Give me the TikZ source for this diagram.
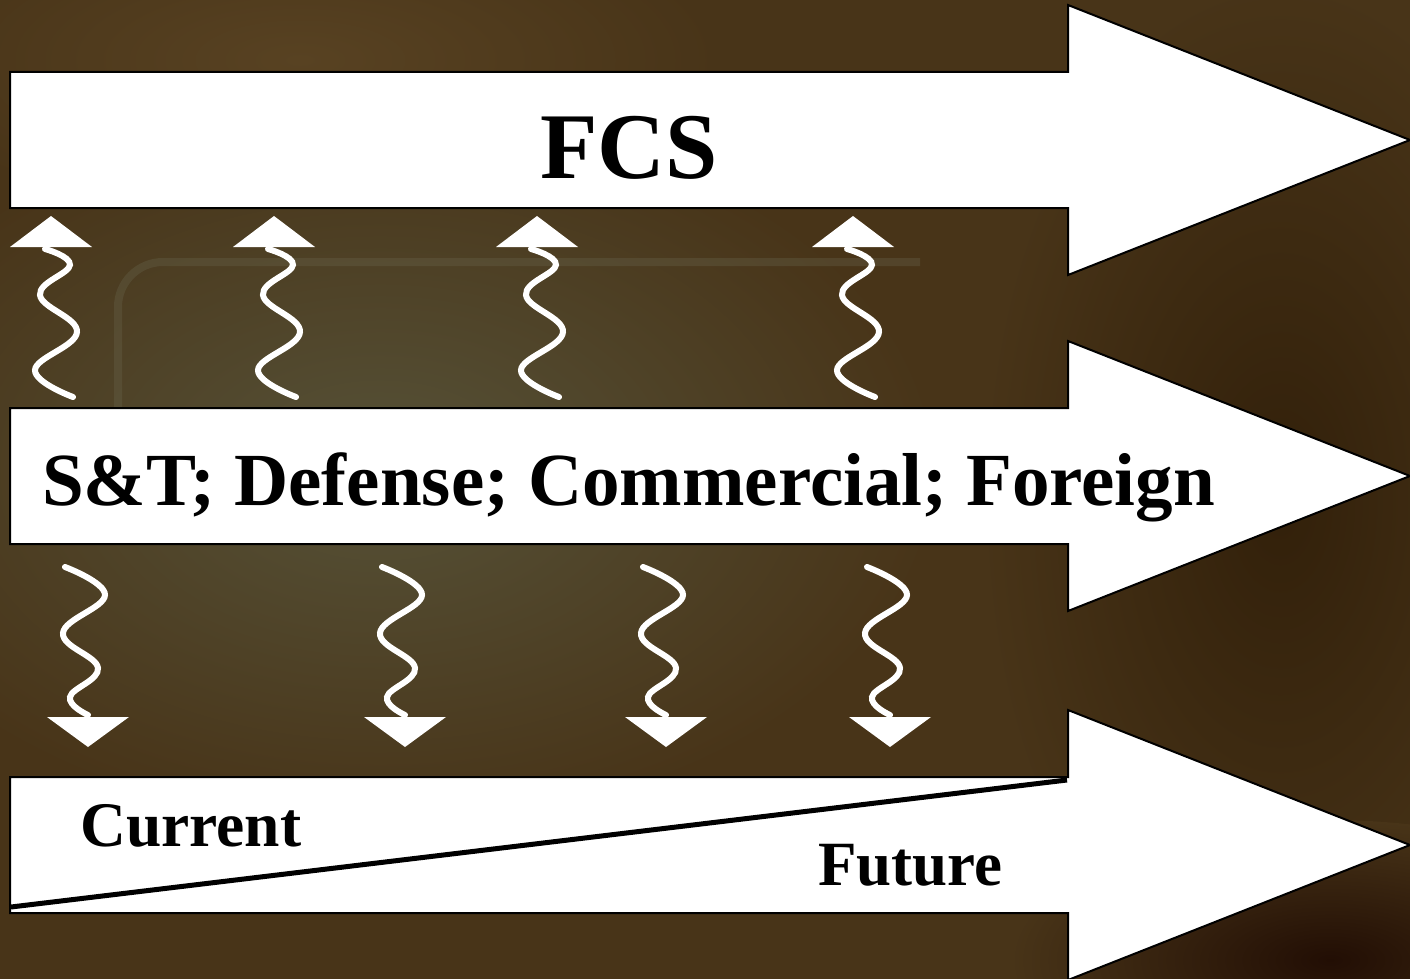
\documentclass[tikz,border=0pt]{standalone}
\usepackage{fontspec}
\setmainfont{Liberation Serif}
\definecolor{bgbase}{RGB}{72,52,24}
\definecolor{bgolive}{RGB}{86,82,56}
\definecolor{bgwarm}{RGB}{88,66,34}
\definecolor{bgdark}{RGB}{50,32,10}
\definecolor{bgblack}{RGB}{34,14,4}
\definecolor{bgframe}{RGB}{104,100,76}
\tikzset{
  bigarrow/.style={fill=white, draw=black, line width=2pt, line join=miter},
  wave/.style={draw=white, line width=6pt, line cap=round},
  wavehead/.style={fill=white, draw=none},
  lbl/.style={inner sep=0pt, anchor=base west, text=black, font=\bfseries}
}
\newcommand\mybigarrow[2]{%
  \path[bigarrow] (10,#2-68) -- (1068,#2-68) -- (1068,#2-135) -- (1410,#2)
    -- (1068,#2+135) -- (1068,#2+68) -- (10,#2+68) -- cycle;
  \coordinate (#1) at (539,#2);}
\newcommand\upwave[2]{%
  \begin{scope}[shift={(#2,0)}]
    \draw[wave] plot[smooth, tension=0.7] coordinates {(22,397) (-16,370) (26,332) (-11,295) (19,265) (-6,249)};
    \path[wavehead] (0,216) -- (-41,247) -- (41,247) -- cycle;
    \coordinate (#1) at (0,216);
  \end{scope}}
\newcommand\downwave[2]{%
  \begin{scope}[shift={(#2,0)}]
    \draw[wave] plot[smooth, tension=0.7] coordinates {(-23,567) (17,595) (-25,633) (10,668) (-18,697) (0,715)};
    \path[wavehead] (-41,717) -- (41,717) -- (0,747) -- cycle;
    \coordinate (#1) at (0,747);
  \end{scope}}
\begin{document}
\begin{tikzpicture}[x=1pt,y=-1pt]
\useasboundingbox (0,0) rectangle (1410,979);
\clip (0,0) rectangle (1410,979);
% background
\fill[bgbase] (0,0) rectangle (1410,979);
\shade[inner color=bgwarm, outer color=bgbase] (300,60) ellipse (420 and 160);
\shade[inner color=bgolive, outer color=bgbase] (380,470) ellipse (560 and 360);
\shade[inner color=bgdark, outer color=bgbase] (1280,500) ellipse (300 and 520);
\shade[inner color=bgblack, outer color=bgbase] (1330,960) ellipse (320 and 140);
\draw[bgframe, line width=8pt, opacity=0.35, rounded corners=45pt] (118,410) -- (118,262) -- (920,262);
% big arrows
\mybigarrow{fcsarrow}{140}
\mybigarrow{starrow}{476}
\mybigarrow{timearrow}{845}
\draw[black, line width=5pt] (11,907) -- (1067,780);
% labels
\node[lbl, font=\bfseries\fontsize{94}{100}\selectfont] (fcs) at (540,178) {FCS};
\node[lbl, font=\bfseries\fontsize{75}{80}\selectfont] (st) at (42,505) {S\&T; Defense; Commercial; Foreign};
\node[lbl, font=\bfseries\fontsize{63.5}{70}\selectfont] (cur) at (80,846) {Current};
\node[lbl, font=\bfseries\fontsize{63}{70}\selectfont] (fut) at (818,885) {Future};
% wavy arrows up
\upwave{u1}{51}
\upwave{u2}{274}
\upwave{u3}{537}
\upwave{u4}{853}
% wavy arrows down
\downwave{d1}{88}
\downwave{d2}{405}
\downwave{d3}{666}
\downwave{d4}{890}
\end{tikzpicture}
\end{document}
